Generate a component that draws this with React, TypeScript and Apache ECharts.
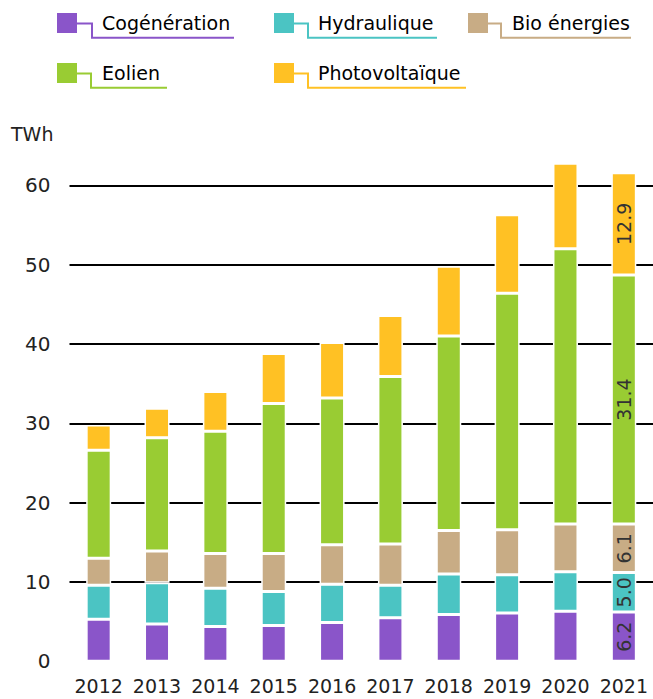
import React, { useEffect, useRef } from "react";
import * as echarts from "echarts";

const years = ["2012", "2013", "2014", "2015", "2016", "2017", "2018", "2019", "2020", "2021"];
const cogeneration = [5.3, 4.7, 4.4, 4.5, 4.9, 5.5, 5.9, 6.1, 6.3, 6.2];
const hydraulique = [4.3, 5.2, 4.8, 4.3, 4.8, 4.1, 5.1, 4.8, 5.0, 5.0];
const bioEnergies = [3.4, 4.0, 4.4, 4.8, 5.0, 5.2, 5.5, 5.7, 6.0, 6.1];
const eolien = [13.6, 14.3, 15.4, 18.9, 18.5, 21.1, 24.5, 29.8, 34.7, 31.4];
const photovoltaique = [3.2, 3.7, 5.0, 6.3, 7.0, 7.7, 8.8, 9.9, 10.8, 12.9];
const seriesNames = ["Cogénération", "Hydraulique", "Bio énergies", "Eolien", "Photovoltaïque"];
const seriesValues = [cogeneration, hydraulique, bioEnergies, eolien, photovoltaique];
const unitLabel = "TWh";
const labelledYear = "2021";

const COLORS = ["#8A55C9", "#4BC4C3", "#C8AC85", "#99CC33", "#FFC124"];
const FONT = "DejaVu Sans";

// legend layout: square x/y, connector x, text x, underline end x
const LEGEND_POS = [
  { sx: 57, sy: 13, cx: 92, tx: 102, ux: 234 },
  { sx: 274, sy: 13, cx: 308, tx: 318, ux: 437 },
  { sx: 468, sy: 13, cx: 501, tx: 512, ux: 631 },
  { sx: 57, sy: 63, cx: 91, tx: 102, ux: 167 },
  { sx: 274, sy: 63, cx: 308, tx: 318, ux: 466 },
];

export default function App() {
  const ref = useRef<HTMLDivElement>(null);
  useEffect(() => {
    if (!ref.current) return;
    const chart = echarts.init(ref.current, undefined, { renderer: "svg" });

    const legendGraphics: any[] = [];
    seriesNames.forEach((name, i) => {
      const p = LEGEND_POS[i];
      const c = COLORS[i];
      legendGraphics.push({
        type: "rect",
        shape: { x: p.sx, y: p.sy, width: 20, height: 20 },
        style: { fill: c },
      });
      legendGraphics.push({
        type: "polyline",
        shape: {
          points: [
            [p.sx + 20, p.sy + 10.5],
            [p.cx, p.sy + 10.5],
            [p.cx, p.sy + 24.7],
            [p.ux, p.sy + 24.7],
          ],
        },
        style: { stroke: c, lineWidth: 2, fill: null },
      });
      legendGraphics.push({
        type: "text",
        x: p.tx,
        y: p.sy + 10,
        style: {
          text: name,
          fontFamily: FONT,
          fontSize: 19,
          fill: "#000",
          textVerticalAlign: "middle",
          verticalAlign: "middle",
        },
      });
    });
    legendGraphics.push({
      type: "text",
      x: 11,
      y: 124,
      style: { text: unitLabel, fontFamily: FONT, fontSize: 19, fill: "#222" },
    });

    const lastIdx = years.indexOf(labelledYear);

    chart.setOption({
      animation: false,
      grid: { left: 69.5, right: -2.5, top: 185.4, bottom: 37.7, containLabel: false },
      xAxis: {
        type: "category",
        data: years,
        axisLine: { show: false },
        axisTick: { show: false },
        axisLabel: { interval: 0, fontFamily: FONT, fontSize: 19, color: "#222", margin: 15 },
      },
      yAxis: {
        type: "value",
        min: 0,
        max: 60,
        interval: 10,
        axisLine: { show: false },
        axisTick: { show: false },
        axisLabel: { fontFamily: FONT, fontSize: 20, color: "#222", margin: 19 },
        splitLine: {
          lineStyle: {
            color: ["rgba(0,0,0,0)", "#000", "#000", "#000", "#000", "#000", "#000"],
            width: 2,
          },
        },
      },
      graphic: legendGraphics,
      series: seriesNames.map((name, i) => ({
        name,
        type: "bar",
        stack: "total",
        barWidth: 25,
        clip: false,
        itemStyle: { color: COLORS[i], borderColor: "#fff", borderWidth: 1.5 },
        data: seriesValues[i].map((v, j) =>
          j === lastIdx
            ? {
                value: v,
                label: {
                  show: true,
                  position: "inside",
                  rotate: 90,
                  fontFamily: FONT,
                  fontSize: 19,
                  color: "#333",
                  formatter: (p: any) => Number(p.value).toFixed(1),
                },
              }
            : v
        ),
      })),
    });
    return () => chart.dispose();
  }, []);
  return (
    <div
      ref={ref}
      style={{ position: "fixed", left: 0, top: 0, width: 653, height: 699, background: "#fff" }}
    />
  );
}
